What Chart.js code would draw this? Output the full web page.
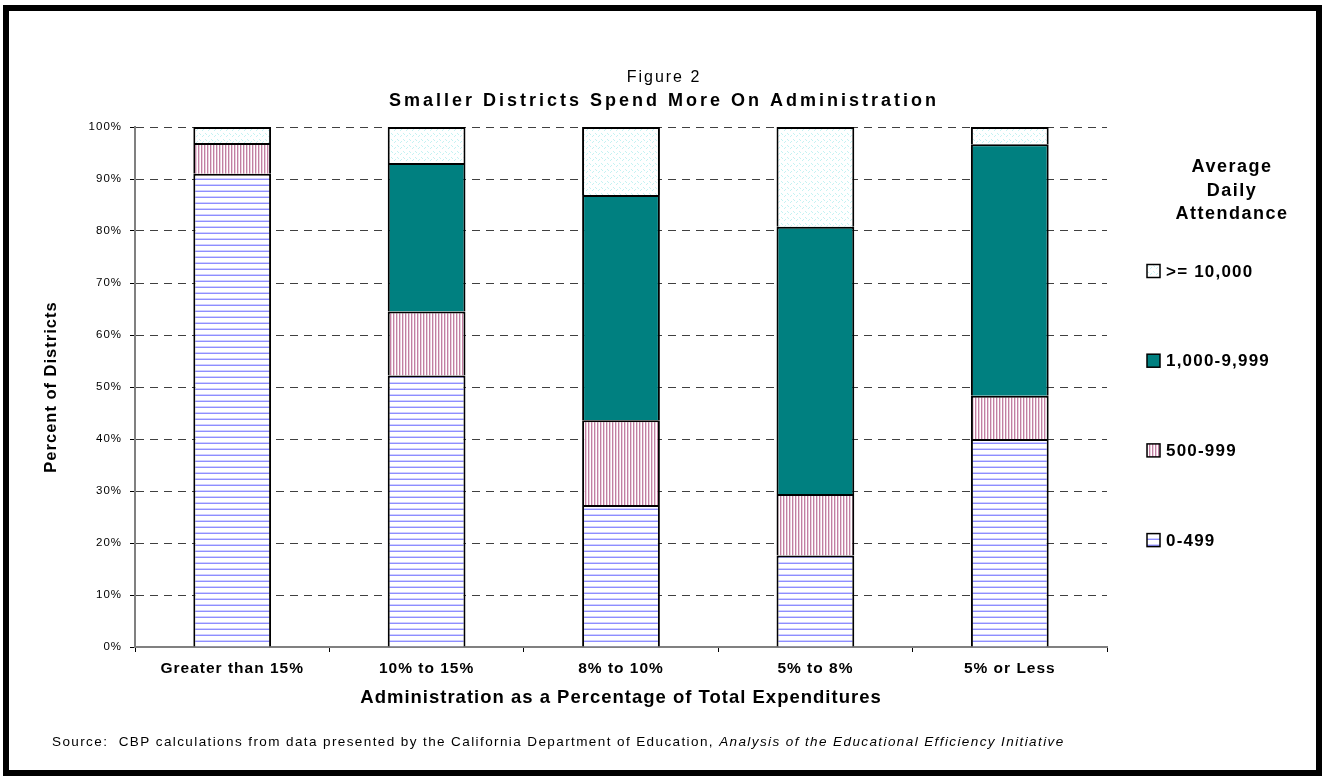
<!DOCTYPE html>
<html>
<head>
<meta charset="utf-8">
<script src="https://cdn.jsdelivr.net/npm/chart.js@4.4.0/dist/chart.umd.min.js"></script>
<style>
    body { margin: 0; background: #fff; }
    #grafico { display: block; }
</style>
</head>
<body>
<canvas id="grafico" width="1325" height="781"></canvas>
<script>
// categories on the x axis
var categories = ['Greater than 15%', '10% to 15%', '8% to 10%', '5% to 8%', '5% or Less'];

// series names (bottom to top of the stack)
var seriesNames = ['0-499', '500-999', '1,000-9,999', '>= 10,000'];

// percent of districts
var ada0to499 = [91.0, 52.2, 27.3, 17.6, 40.0];
var ada500to999 = [5.9, 12.3, 16.3, 11.8, 8.3];
var ada1000to9999 = [0, 28.6, 43.3, 51.4, 48.4];
var ada10000plus = [3.1, 6.9, 13.1, 19.2, 3.3];

var yTickLabels = ['0%', '10%', '20%', '30%', '40%', '50%', '60%', '70%', '80%', '90%', '100%'];

var FONT = 'Liberation Sans, Arial, sans-serif';

// small canvases used as fill patterns
function makePattern(w, h, draw) {
    var c = document.createElement('canvas');
    c.width = w;
    c.height = h;
    var g = c.getContext('2d');
    draw(g);
    return g.createPattern(c, 'repeat');
}

// horizontal blue lines
var hLines = makePattern(6, 6, function (g) {
    g.fillStyle = '#fff';
    g.fillRect(0, 0, 6, 6);
    g.fillStyle = '#d0d0ff';
    g.fillRect(0, 4, 6, 1);
    g.fillStyle = '#8e8eff';
    g.fillRect(0, 5, 6, 1);
});
// vertical pink stripes
var vLines = makePattern(3, 3, function (g) {
    g.fillStyle = '#fff';
    g.fillRect(0, 0, 3, 3);
    g.fillStyle = '#c27fa2';
    g.fillRect(0, 0, 1, 3);
    g.fillStyle = '#ead0de';
    g.fillRect(1, 0, 1, 3);
});
// faint cyan dots
var dots = makePattern(6, 6, function (g) {
    g.fillStyle = '#fff';
    g.fillRect(0, 0, 6, 6);
    g.fillStyle = '#c4f2f2';
    g.fillRect(1, 1, 1, 1);
    g.fillRect(2, 2, 1, 1);
    g.fillRect(4, 4, 1, 1);
    g.fillRect(5, 3, 1, 1);
});

var fills = [hLines, vLines, '#008080', dots];
var seriesData = [ada0to499, ada500to999, ada1000to9999, ada10000plus];

var datasets = [];
for (var i = 0; i < seriesNames.length; i++) {
    datasets.push({
        label: seriesNames[i],
        data: seriesData[i],
        backgroundColor: fills[i],
        borderColor: '#000',
        borderWidth: 2,
        categoryPercentage: 1,
        barPercentage: 0.4
    });
}

// background, frame, titles, legend and source note
var decorations = {
    id: 'decorations',
    beforeDraw: function (chart) {
        var ctx = chart.ctx;
        ctx.save();
        ctx.fillStyle = '#fff';
        ctx.fillRect(0, 0, chart.width, chart.height);
        ctx.restore();
        ctx.letterSpacing = '1px';   // spaced out axis text
    },
    beforeDatasetsDraw: function (chart) {
        chart.ctx.letterSpacing = '0px';
    },
    afterDraw: function (chart) {
        var ctx = chart.ctx;
        ctx.save();

        ctx.strokeStyle = '#000';
        ctx.lineWidth = 6;
        ctx.strokeRect(6, 8, 1313, 765);

        ctx.fillStyle = '#000';
        ctx.textAlign = 'center';
        ctx.textBaseline = 'middle';
        ctx.letterSpacing = '2px';
        ctx.font = '16px ' + FONT;
        ctx.fillText('Figure 2', 664, 78);
        ctx.letterSpacing = '3px';
        ctx.font = 'bold 18px ' + FONT;
        ctx.fillText('Smaller Districts Spend More On Administration', 664, 101);

        // legend
        ctx.letterSpacing = '1.5px';
        ctx.font = 'bold 18px ' + FONT;
        ctx.fillText('Average', 1232, 167);
        ctx.fillText('Daily', 1232, 191);
        ctx.fillText('Attendance', 1232, 214);

        ctx.textAlign = 'left';
        ctx.letterSpacing = '1.2px';
        ctx.font = 'bold 17px ' + FONT;
        var sets = chart.data.datasets;
        for (var k = 0; k < sets.length; k++) {
            var ds = sets[sets.length - 1 - k];
            var cy = 271 + k * 89.7;
            ctx.fillStyle = ds.backgroundColor;
            ctx.fillRect(1147, cy - 6.5, 13, 13);
            ctx.strokeStyle = '#000';
            ctx.lineWidth = 1.5;
            ctx.strokeRect(1147, cy - 6.5, 13, 13);
            ctx.fillStyle = '#000';
            ctx.fillText(ds.label, 1166, cy + 1);
        }

        // source note
        ctx.letterSpacing = '1.4px';
        ctx.font = '13.5px ' + FONT;
        var part1 = 'Source:  CBP calculations from data presented by the California Department of Education, ';
        ctx.fillText(part1, 52, 742);
        var w = ctx.measureText(part1).width;
        ctx.font = 'italic 13.5px ' + FONT;
        ctx.fillText('Analysis of the Educational Efficiency Initiative', 52 + w, 742);

        ctx.restore();
    }
};

var ctx = document.getElementById('grafico');
var chart = new Chart(ctx, {
    type: 'bar',
    data: {
        labels: categories,
        datasets: datasets
    },
    options: {
        responsive: false,
        animation: false,
        layout: {
            padding: { top: 127, right: 218, bottom: 0, left: 0 }
        },
        plugins: {
            legend: { display: false },
            tooltip: { enabled: false }
        },
        scales: {
            x: {
                stacked: true,
                afterFit: function (scale) { scale.height = 134; },
                grid: {
                    drawOnChartArea: false,
                    drawTicks: true,
                    tickLength: 5,
                    tickColor: '#000',
                    offset: true
                },
                border: { color: '#808080', width: 2 },
                ticks: {
                    color: '#000',
                    padding: 7,
                    maxRotation: 0,
                    autoSkip: false,
                    font: { family: FONT, size: 15.5, weight: 'bold' }
                },
                title: {
                    display: true,
                    text: 'Administration as a Percentage of Total Expenditures',
                    color: '#000',
                    font: { family: FONT, size: 18.5, weight: 'bold' },
                    padding: { top: 0, bottom: 72 }
                }
            },
            y: {
                stacked: true,
                min: 0,
                max: 100,
                afterFit: function (scale) { scale.width = 135; },
                grid: {
                    color: '#404040',
                    lineWidth: 1,
                    tickLength: 5,
                    tickColor: '#000'
                },
                border: { color: '#808080', width: 2, dash: [8, 6] },
                ticks: {
                    stepSize: 10,
                    color: '#000',
                    padding: 8,
                    font: { family: FONT, size: 11.5 },
                    callback: function (value, index) { return yTickLabels[index]; }
                },
                title: {
                    display: true,
                    text: 'Percent of Districts',
                    color: '#000',
                    font: { family: FONT, size: 16.5, weight: 'bold' },
                    padding: { top: 42, bottom: 0 }
                }
            }
        }
    },
    plugins: [decorations]
});
</script>
</body>
</html>
